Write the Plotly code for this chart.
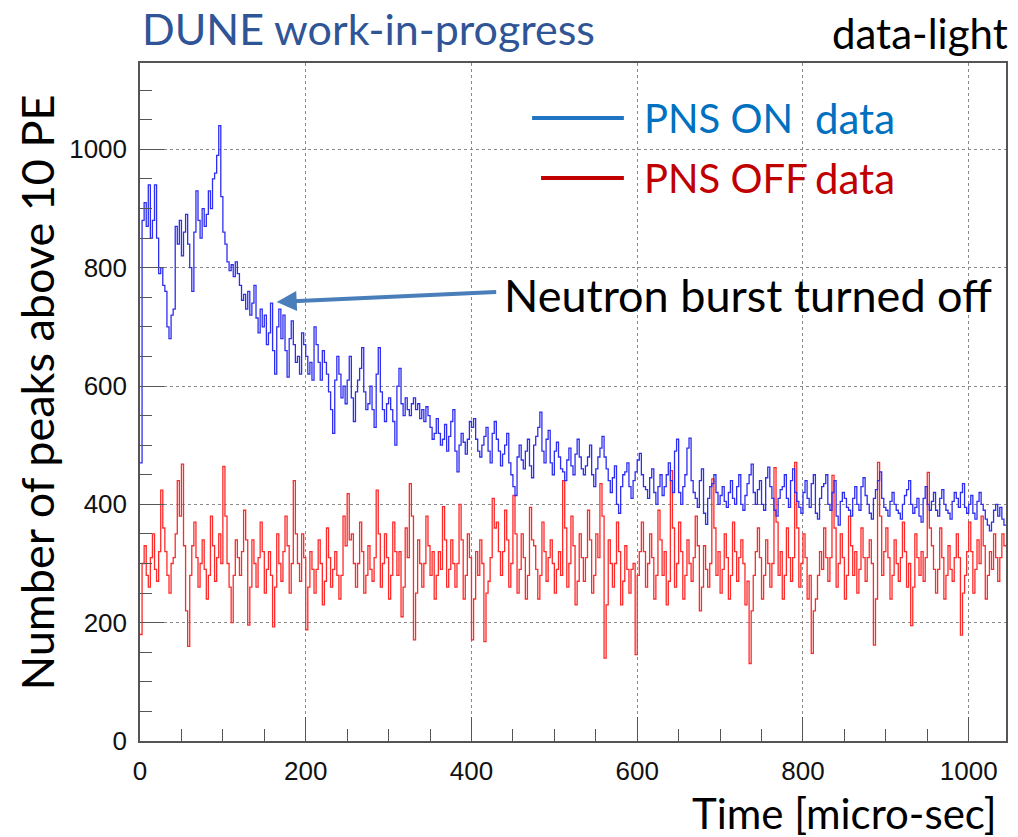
import plotly.graph_objects as go

# ---------------- data (2.5 micro-sec bins, 0 .. 1045) ----------------
bin_width = 2.5
pns_on = [
    470, 880, 910, 870, 940, 850, 880, 940, 850, 790,
    800, 770, 760, 700, 680, 720, 730, 870, 840, 880,
    820, 860, 890, 840, 800, 760, 860, 930, 880, 850,
    900, 870, 890, 930, 900, 950, 960, 990, 1040, 920,
    860, 840, 810, 795, 805, 785, 810, 790, 770, 745,
    755, 730, 760, 720, 740, 770, 715, 690, 730, 700,
    720, 670, 690, 740, 660, 620, 700, 730, 680, 720,
    660, 615, 680, 710, 670, 640, 650, 620, 690, 670,
    650, 620, 640, 610, 700, 670, 640, 610, 660, 640,
    620, 590, 560, 520, 610, 650, 620, 580, 600, 570,
    610, 650, 580, 540, 590, 610, 630, 665, 590, 560,
    570, 600, 560, 530, 620, 665, 590, 560, 540, 570,
    580, 560, 540, 500, 600, 630, 570, 550, 580, 560,
    550, 570, 580, 560, 570, 545, 560, 540, 565, 550,
    530, 510, 520, 545, 520, 500, 510, 535, 490, 515,
    540, 560, 490, 455, 500, 520, 505, 485, 510, 540,
    530, 545, 510, 490, 480, 500, 515, 530, 490, 470,
    520, 540, 510, 490, 465, 485, 500, 520, 470, 450,
    430, 415, 480, 500, 475, 460, 490, 510, 465, 445,
    500, 515, 530, 556, 490, 470, 510, 525, 470, 450,
    490, 505, 480, 460, 455, 440, 475, 495, 465, 450,
    485, 510, 480, 460, 450, 465, 480, 500, 450, 430,
    460, 480, 495, 515, 480, 460, 440, 420, 445, 465,
    400, 385, 430, 450, 455, 470, 430, 410, 440, 455,
    475, 486, 450, 430, 425, 410, 445, 460, 420, 400,
    430, 450, 415, 430, 450, 470, 440, 420, 490, 510,
    420, 400, 430, 450, 495, 512, 440, 420, 410, 395,
    440, 460, 385, 366, 410, 430, 435, 450, 420, 400,
    415, 430, 405, 395, 420, 440, 410, 400, 430, 450,
    400, 390, 415, 435, 450, 468, 420, 400, 425, 440,
    400, 390, 445, 463, 430, 410, 390, 380, 410, 425,
    430, 450, 410, 395, 440, 460, 420, 405, 395, 385,
    420, 440, 410, 395, 435, 450, 385, 375, 410, 430,
    435, 450, 400, 390, 420, 440, 380, 365, 405, 420,
    410, 395, 390, 380, 410, 430, 400, 390, 430, 445,
    415, 400, 385, 375, 410, 425, 440, 455, 410, 395,
    390, 380, 405, 420, 400, 390, 385, 375, 400, 415,
    425, 440, 400, 385, 395, 410, 380, 370, 410, 430,
    400, 390, 405, 420, 390, 380, 410, 425, 400, 390,
    385, 375, 405, 420, 410, 395, 420, 435, 395, 385,
    400, 415, 385, 375, 405, 420, 400, 390, 375, 365,
    355, 370, 390, 400, 380, 395, 375, 365,
]
pns_off = [
    180, 300, 330, 280, 260, 310, 350, 290, 270, 320,
    424, 360, 320, 280, 250, 300, 310, 350, 440, 380,
    468, 330, 220, 160, 280, 330, 370, 310, 260, 300,
    340, 290, 240, 280, 380, 330, 270, 310, 350, 300,
    464, 380, 300, 260, 200, 280, 340, 310, 280, 320,
    390, 340, 196, 260, 340, 300, 260, 310, 370, 320,
    250, 290, 320, 280, 193, 260, 350, 300, 270, 320,
    380, 330, 250, 300, 440, 350, 300, 270, 350, 310,
    188, 260, 320, 290, 250, 290, 340, 300, 230, 270,
    360, 310, 260, 290, 320, 280, 240, 280, 380, 330,
    418, 340, 350, 300, 260, 300, 370, 320, 250, 280,
    330, 290, 270, 310, 424, 350, 260, 300, 350, 310,
    240, 280, 370, 320, 280, 320, 210, 260, 360, 310,
    435, 380, 171, 250, 340, 300, 260, 300, 380, 330,
    280, 320, 240, 280, 320, 290, 396, 340, 260, 290,
    340, 300, 260, 300, 400, 340, 240, 280, 350, 310,
    171, 240, 320, 280, 340, 300, 168, 250, 270, 310,
    410, 360, 370, 320, 280, 320, 390, 340, 260, 300,
    415, 350, 250, 290, 350, 310, 240, 280, 395, 340,
    330, 290, 240, 280, 370, 320, 270, 310, 340, 300,
    250, 290, 320, 280, 440, 360, 260, 300, 380, 330,
    230, 270, 350, 310, 270, 310, 390, 340, 250, 280,
    350, 310, 435, 380, 140, 230, 340, 300, 260, 300,
    370, 320, 230, 270, 330, 290, 250, 290, 300, 146,
    280, 320, 370, 320, 260, 300, 350, 310, 240, 280,
    390, 340, 280, 320, 230, 270, 457, 360, 260, 300,
    370, 320, 240, 280, 340, 300, 270, 310, 380, 330,
    220, 260, 330, 290, 260, 300, 443, 360, 280, 320,
    250, 290, 350, 310, 240, 280, 370, 320, 270, 310,
    340, 300, 230, 270, 131, 220, 280, 320, 360, 310,
    240, 280, 340, 300, 260, 300, 462, 370, 280, 320,
    240, 280, 360, 310, 270, 310, 471, 360, 260, 300,
    350, 310, 240, 280, 148, 220, 240, 280, 320, 290,
    360, 310, 270, 310, 449, 360, 260, 300, 350, 310,
    240, 280, 380, 330, 280, 320, 250, 290, 360, 310,
    270, 310, 340, 300, 162, 240, 471, 380, 280, 320,
    360, 310, 240, 280, 340, 300, 270, 310, 370, 320,
    260, 300, 195, 260, 350, 310, 280, 320, 270, 310,
    454, 360, 330, 290, 250, 290, 360, 310, 240, 280,
    330, 290, 270, 310, 350, 310, 179, 250, 280, 320,
    370, 320, 250, 290, 340, 300, 380, 330, 240, 280,
    320, 290, 350, 310, 270, 310, 350, 330,
]
x_range = [0, 1045]
y_range = [0, 1146]
x_ticks = [0, 200, 400, 600, 800, 1000]
y_ticks = [0, 200, 400, 600, 800, 1000]

# step-histogram coordinates
def steps(vals):
    xs = [i * bin_width for i in range(len(vals))] + [len(vals) * bin_width]
    ys = list(vals) + [vals[-1]]
    return xs, ys

fig = go.Figure()
xr, yr = steps(pns_off)
fig.add_trace(go.Scatter(x=xr, y=yr, mode="lines", line_shape="hv",
                         line=dict(color="#FF2A2A", width=1.3), showlegend=False))
xb, yb = steps(pns_on)
fig.add_trace(go.Scatter(x=xb, y=yb, mode="lines", line_shape="hv",
                         line=dict(color="#2E2EF2", width=1.3), showlegend=False))

W, H = 1018, 837
L, R, T, B = 140, 10, 63, 96
PW, PH = W - L - R, H - T - B

def px(xp):
    return (xp - L) / PW

def py(yp):
    return (H - B - yp) / PH

FONT = "Lato"
axis_common = dict(
    showline=True, mirror=True, linecolor="#555555", linewidth=1.5,
    ticks="inside", ticklen=24, tickwidth=1.3, tickcolor="#555555",
    showgrid=True, gridcolor="#8a8a8a", griddash="dot", gridwidth=1,
    zeroline=False,
    tickfont=dict(family="Liberation Sans", size=26, color="#111111"),
    minor=dict(dtick=50, ticks="inside", ticklen=12, tickwidth=1.3,
               tickcolor="#555555", showgrid=False),
)
fig.update_xaxes(range=x_range, tickvals=x_ticks, ticklabelstandoff=6, **axis_common)
fig.update_yaxes(range=y_range, tickvals=y_ticks, ticklabelstandoff=6, **axis_common)

annotations = [
    dict(x=px(140), y=py(28), text="DUNE work-in-progress", xanchor="left", yanchor="middle",
         font=dict(family=FONT, size=43, color="#2F5597")),
    dict(x=px(1012), y=py(33), text="data-light", xanchor="right", yanchor="middle",
         font=dict(family=FONT, size=42, color="#000000")),
    dict(x=px(643), y=py(118), text="PNS ON", xanchor="left", yanchor="middle",
         font=dict(family=FONT, size=40, color="#0070C0")),
    dict(x=px(815), y=py(118), text="data", xanchor="left", yanchor="middle",
         font=dict(family=FONT, size=42, color="#0070C0")),
    dict(x=px(643), y=py(178), text="PNS OFF", xanchor="left", yanchor="middle",
         font=dict(family=FONT, size=40, color="#C00000")),
    dict(x=px(815), y=py(178), text="data", xanchor="left", yanchor="middle",
         font=dict(family=FONT, size=42, color="#C00000")),
    dict(x=px(503), y=py(295), text="Neutron burst turned off", xanchor="left", yanchor="middle",
         font=dict(family=FONT, size=45, color="#000000")),
    dict(x=px(37), y=py(392), text="Number of peaks above 10 PE", textangle=-90,
         xanchor="center", yanchor="middle",
         font=dict(family=FONT, size=45, color="#000000")),
    dict(x=px(1001), y=py(813), text="Time [micro-sec]", xanchor="right", yanchor="middle",
         font=dict(family=FONT, size=42, color="#000000")),
]
for a in annotations:
    a.update(xref="paper", yref="paper", showarrow=False)

# arrow pointing to the drop
annotations.append(dict(
    x=px(277), y=py(302), xref="paper", yref="paper", text="",
    showarrow=True, ax=498 - 277, ay=292 - 302, axref="pixel", ayref="pixel",
    arrowhead=2, arrowsize=1.0, arrowwidth=4, arrowcolor="#4A7EBB",
))

shapes = [
    dict(type="line", xref="paper", yref="paper", x0=px(533), x1=px(625), y0=py(118), y1=py(118),
         line=dict(color="#1F74C4", width=4)),
    dict(type="line", xref="paper", yref="paper", x0=px(542), x1=px(625), y0=py(178), y1=py(178),
         line=dict(color="#C00000", width=4)),
]

fig.update_layout(
    width=W, height=H,
    margin=dict(l=L, r=R, t=T, b=B),
    paper_bgcolor="white", plot_bgcolor="white",
    annotations=annotations, shapes=shapes,
    showlegend=False,
)

fig.write_html("out.html")
